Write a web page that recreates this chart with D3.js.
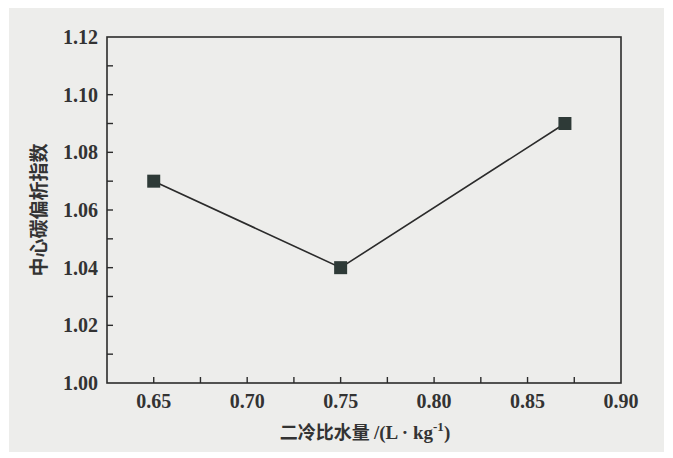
<!DOCTYPE html>
<html>
<head>
<meta charset="utf-8">
<script src="https://cdn.jsdelivr.net/npm/d3@7/dist/d3.min.js"></script>
<style>
  html, body { margin: 0; padding: 0; background: #fff; }
  .serif { font-family: 'Liberation Serif', 'Times New Roman', 'DejaVu Serif', serif; }
</style>
</head>
<body>
<div id="chart"></div>
<script>
// data
const waterRatio = [0.65, 0.75, 0.87];
const offsetIndex = [1.07, 1.04, 1.09];
const xTickValues = [0.65, 0.70, 0.75, 0.80, 0.85, 0.90];
const yTickValues = [1.00, 1.02, 1.04, 1.06, 1.08, 1.10, 1.12];

const W = 673, H = 458;
const margin = { top: 37, right: 52, bottom: 75, left: 107 };
const width = W - margin.left - margin.right;
const height = H - margin.top - margin.bottom;

const svg = d3.select('#chart')
  .append('svg')
  .attr('width', W)
  .attr('height', H);

// scanned page background
svg.append('rect')
  .attr('x', 9).attr('y', 8)
  .attr('width', W - 18).attr('height', H - 14)
  .attr('fill', '#ededeb');

const g = svg.append('g')
  .attr('transform', `translate(${margin.left},${margin.top})`);

const x = d3.scaleLinear().domain([0.625, 0.90]).range([0, width]);
const y = d3.scaleLinear().domain([1.00, 1.12]).range([height, 0]);

const ink = '#2b2b2b';

// frame
g.append('rect')
  .attr('width', width).attr('height', height)
  .attr('fill', 'none')
  .attr('stroke', ink)
  .attr('stroke-width', 1.6);

// minor + major ticks pointing inward
const xTicks = d3.range(0.65, 0.89, 0.025);
g.selectAll('.xt').data(xTicks).enter().append('line')
  .attr('x1', d => x(d)).attr('x2', d => x(d))
  .attr('y1', height).attr('y2', height - 6)
  .attr('stroke', ink).attr('stroke-width', 1.4);

const yTicks = d3.range(1.01, 1.115, 0.01);
g.selectAll('.yt').data(yTicks).enter().append('line')
  .attr('x1', 0).attr('x2', 6)
  .attr('y1', d => y(d)).attr('y2', d => y(d))
  .attr('stroke', ink).attr('stroke-width', 1.4);

// tick labels
g.selectAll('.xl').data(xTickValues).enter().append('text')
  .attr('class', 'serif')
  .attr('x', d => x(d)).attr('y', height + 25)
  .attr('text-anchor', 'middle')
  .attr('font-size', 20).attr('font-weight', 'bold')
  .attr('fill', '#333')
  .text(d => d.toFixed(2));

g.selectAll('.yl').data(yTickValues).enter().append('text')
  .attr('class', 'serif')
  .attr('x', -9).attr('y', d => y(d))
  .attr('dy', '0.35em')
  .attr('text-anchor', 'end')
  .attr('font-size', 20).attr('font-weight', 'bold')
  .attr('fill', '#333')
  .text(d => d.toFixed(2));

// line + square markers
const line = d3.line()
  .x((d, i) => x(waterRatio[i]))
  .y(d => y(d));

g.append('path')
  .datum(offsetIndex)
  .attr('d', line)
  .attr('fill', 'none')
  .attr('stroke', ink)
  .attr('stroke-width', 1.6);

g.selectAll('.pt').data(offsetIndex).enter().append('rect')
  .attr('x', (d, i) => x(waterRatio[i]) - 6.5)
  .attr('y', d => y(d) - 6.5)
  .attr('width', 13).attr('height', 13)
  .attr('fill', '#2e3a37');

// axis titles
const xTitle = svg.append('text')
  .attr('x', 365).attr('y', 439)
  .attr('text-anchor', 'middle')
  .attr('font-family', '"Noto Sans CJK SC", sans-serif')
  .attr('font-size', 18).attr('font-weight', 'bold')
  .attr('fill', '#333');
xTitle.append('tspan').text('二冷比水量 ');
xTitle.append('tspan').attr('class', 'serif').attr('font-size', 19).text('/(L · kg');
xTitle.append('tspan').attr('class', 'serif').attr('font-size', 13).attr('dy', -8).text('-1');
xTitle.append('tspan').attr('class', 'serif').attr('font-size', 19).attr('dy', 8).text(')');

svg.append('text')
  .attr('transform', `translate(46,${margin.top + height / 2}) rotate(-90)`)
  .attr('text-anchor', 'middle')
  .attr('font-family', '"Noto Sans CJK SC", sans-serif')
  .attr('font-size', 19).attr('font-weight', 'bold')
  .attr('fill', '#333')
  .text('中心碳偏析指数');
</script>
</body>
</html>
